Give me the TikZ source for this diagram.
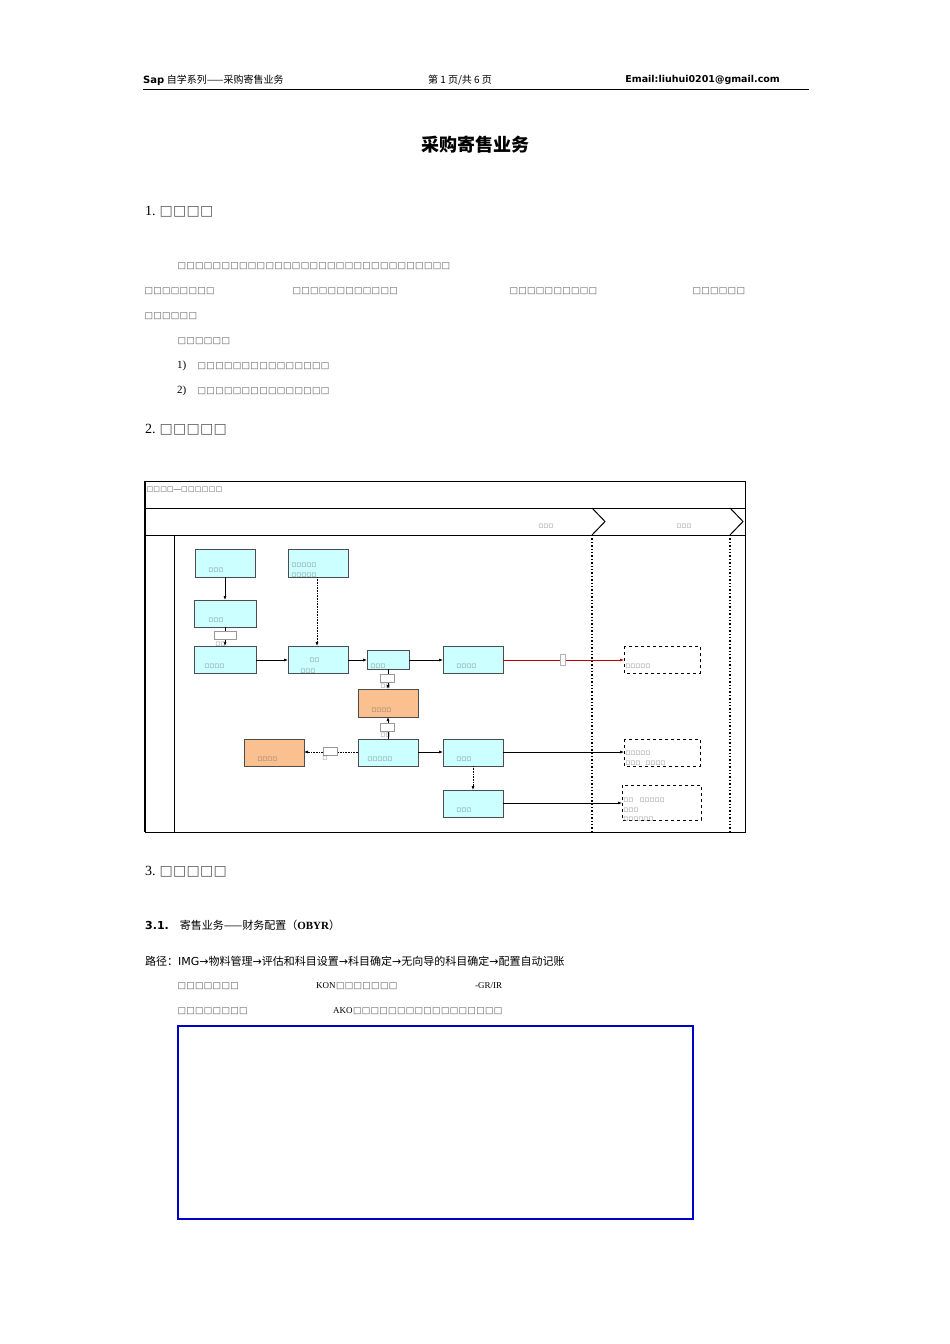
\documentclass[tikz,border=0pt]{standalone}
\usepackage{fontspec}
\setmainfont{Liberation Serif}
\newfontfamily\cjk{Noto Sans CJK SC}
\newfontfamily\dv{DejaVu Sans}
\usetikzlibrary{arrows.meta}
\definecolor{cy}{HTML}{CCFFFF}
\definecolor{org}{HTML}{FAC090}
\newcommand{\tf}[1]{{\dv\color{black!65}\foreach \i in {1,...,#1}{\kern0.3pt□}}}
\tikzset{
 bx/.style={draw=black!70,fill=cy,line width=0.8pt},
 ob/.style={draw=black!70,fill=org,line width=0.8pt},
 db/.style={draw,dashed,line width=0.6pt},
 lab/.style={font=\fontsize{5}{5}\selectfont,inner sep=0pt,anchor=west},
 ar/.style={-{Latex[length=4pt,width=3pt]},line width=0.6pt},
 lb/.style={draw=black!40,fill=white,minimum width=22pt,minimum height=8pt,inner sep=0pt},
}
\begin{document}
\begin{tikzpicture}[x=1pt,y=-1pt]
\useasboundingbox (0,0) rectangle (950,1344);
\fill[white] (0,0) rectangle (950,1344);
% header
\node[anchor=west,inner sep=0] (h1) at (143,80) {\fontsize{10}{10}\selectfont\textbf{\dv Sap} {\cjk 自学系列——采购寄售业务}};
\node[inner sep=0] (h2) at (460,80) {\fontsize{10}{10}\selectfont\cjk 第 1 页/共 6 页};
\node[anchor=east,inner sep=0] (h3) at (780,80) {\fontsize{9.5}{10}\selectfont\dv\bfseries Email:liuhui0201@gmail.com};
\draw[line width=0.8pt] (143,89) -- (809,89);
\node (title) at (475,145) {\fontsize{18}{18}\selectfont\cjk\bfseries 采购寄售业务};
% section 1
\node[anchor=west,inner sep=0] (s1) at (145,212) {\fontsize{14}{14}\selectfont 1.\ \tf{4}};
\node[anchor=west,inner sep=0] (p1) at (177,266) {\fontsize{9}{9}\selectfont\tf{31}};
\node[anchor=west,inner sep=0] (p2) at (144,291) {\fontsize{9}{9}\selectfont\tf{8}};
\node[anchor=west,inner sep=0] (p3) at (292,291) {\fontsize{9}{9}\selectfont\tf{12}};
\node[anchor=west,inner sep=0] (p4) at (509,291) {\fontsize{9}{9}\selectfont\tf{10}};
\node[anchor=west,inner sep=0] (p5) at (692,291) {\fontsize{9}{9}\selectfont\tf{6}};
\node[anchor=west,inner sep=0] (p6) at (144,316) {\fontsize{9}{9}\selectfont\tf{6}};
\node[anchor=west,inner sep=0] (p7) at (177,341) {\fontsize{9}{9}\selectfont\tf{6}};
\node[anchor=west,inner sep=0] (p8) at (177,366) {\fontsize{11}{11}\selectfont 1)\quad\fontsize{9}{9}\selectfont\tf{15}};
\node[anchor=west,inner sep=0] (p9) at (177,391) {\fontsize{11}{11}\selectfont 2)\quad\fontsize{9}{9}\selectfont\tf{15}};
\node[anchor=west,inner sep=0] (s2) at (145,430) {\fontsize{14}{14}\selectfont 2.\ \tf{5}};
% diagram frame
\draw[line width=0.6pt] (145,481) rectangle (745,832);
\draw[line width=1.2pt] (145,481) -- (145,832);
\draw[line width=0.6pt] (145,508) -- (745,508);
\draw[line width=0.6pt] (145,535) -- (745,535);
\draw[line width=0.6pt] (174,535) -- (174,832);
\node[lab,font=\fontsize{7}{7}\selectfont] (dt) at (146,490) {\tf{4}—\tf{6}};
\draw[line width=1pt] (592,508) -- (605,521.5) -- (592,535);
\draw[line width=1pt] (730,508) -- (743,521.5) -- (730,535);
\node[lab] (c1) at (538,526) {\tf{3}};
\node[lab] (c2) at (676,526) {\tf{3}};
\draw[dotted,line width=1.4pt] (592,535) -- (592,832);
\draw[dotted,line width=1.4pt] (730,535) -- (730,832);
% boxes
\draw[bx] (195,549) rectangle (255,577) node[lab] (A) at (208,570) {\tf{3}};
\coordinate (Ab) at (225,577);
\draw[bx] (288,549) rectangle (348,577);
\node[lab] (B1) at (291,565) {\tf{5}}; \node[lab] (B2) at (291,575) {\tf{5}};
\coordinate (Bb) at (317,577);
\draw[bx] (194,600) rectangle (256,627); \node[lab] (C) at (208,620) {\tf{3}};
\coordinate (Ct) at (225,600); \coordinate (Cb) at (225,627);
\draw[bx] (194,646) rectangle (256,673); \node[lab] (D) at (204,666) {\tf{4}};
\coordinate (Dt) at (225,646); \coordinate (Dr) at (256,660);
\draw[bx] (288,646) rectangle (348,673); \node[lab] (E1) at (309,660) {\tf{2}}; \node[lab] (E2) at (300,671) {\tf{3}};
\coordinate (Et) at (317,646); \coordinate (El) at (288,660); \coordinate (Er) at (348,660);
\draw[bx] (367,650) rectangle (409,669); \node[lab] (F) at (370,666) {\tf{3}};
\coordinate (Fl) at (367,660); \coordinate (Fr) at (409,660); \coordinate (Fb) at (388,669);
\draw[bx] (443,646) rectangle (503,673); \node[lab] (G) at (456,666) {\tf{4}};
\coordinate (Gl) at (443,660); \coordinate (Gr) at (503,660);
\draw[ob] (358,689) rectangle (418,717); \node[lab] (H) at (371,710) {\tf{4}};
\coordinate (Ht) at (388,689); \coordinate (Hb) at (388,717);
\draw[ob] (244,739) rectangle (304,766); \node[lab] (I) at (257,759) {\tf{4}};
\coordinate (Ir) at (304,752);
\draw[bx] (358,739) rectangle (418,766); \node[lab] (J) at (367,759) {\tf{5}};
\coordinate (Jt) at (388,739); \coordinate (Jl) at (358,752); \coordinate (Jr) at (418,752);
\draw[bx] (443,739) rectangle (503,766); \node[lab] (K) at (456,759) {\tf{3}};
\coordinate (Kl) at (443,752); \coordinate (Kr) at (503,752); \coordinate (Kb) at (473,766);
\draw[bx] (443,790) rectangle (503,817); \node[lab] (L) at (456,810) {\tf{3}};
\coordinate (Lt) at (473,790); \coordinate (Lr) at (503,803);
\draw[db] (624,646) rectangle (700,673); \node[lab] (M) at (625,666) {\tf{5}};
\coordinate (Ml) at (624,660);
\draw[db] (624,739) rectangle (700,766); \node[lab] (N1) at (625,753) {\tf{5}}; \node[lab] (N2) at (625,763) {\tf{3}\quad\tf{4}};
\coordinate (Nl) at (624,752);
\draw[db] (622,785) rectangle (701,820); \node[lab] (O1) at (623,800) {\tf{2}\quad\ \tf{5}}; \node[lab] (O2) at (623,810) {\tf{3}}; \node[lab] (O3) at (623,819) {\tf{6}};
\coordinate (Ol) at (622,803);
% connectors
\draw[ar] (Ab) -- (Ct);
\draw[ar] (Cb) -- (Dt);
\node[lb] (cl) at (225,635) {}; \node[lab] at (215,644) {\tf{2}};
\draw[ar,densely dotted] (Bb) -- (Et);
\draw[ar] (Dr) -- (El);
\draw[ar] (Er) -- (Fl);
\draw[ar] (Fr) -- (Gl);
\draw[ar] (Fb) -- (Ht);
\node[lb,minimum width=14pt] (fl) at (387,678) {}; \node[lab] at (380,686) {\tf{2}};
\draw[ar] (Jt) -- (Hb);
\node[lb,minimum width=14pt] (jl) at (387,727) {}; \node[lab] at (380,735) {\tf{2}};
\draw[ar,densely dotted] (Jl) -- (Ir);
\node[lb,minimum width=14pt] (il) at (330,751) {}; \node[lab] at (322,758) {\tf{1}};
\draw[ar] (Jr) -- (Kl);
\draw[ar,draw=red!75!black] (Gr) -- (Ml);
\node[lb,minimum width=5pt,minimum height=11pt,draw=black!30] (gl) at (563,660) {};
\draw[ar] (Kr) -- (Nl);
\draw[ar,densely dotted] (Kb) -- (Lt);
\draw[ar] (Lr) -- (Ol);
% section 3
\node[anchor=west,inner sep=0] (s3) at (145,872) {\fontsize{14}{14}\selectfont 3.\ \tf{5}};
\node[anchor=west,inner sep=0] (s31) at (145,925) {\fontsize{11}{11}\selectfont\textbf{\dv 3.1.}\quad{\cjk 寄售业务——财务配置（}\textbf{OBYR}{\cjk ）}};
\node[anchor=west,inner sep=0] (path) at (145,961) {\fontsize{11}{11}\selectfont{\cjk 路径：}{\dv IMG→}{\cjk 物料管理}{\dv →}{\cjk 评估和科目设置}{\dv →}{\cjk 科目确定}{\dv →}{\cjk 无向导的科目确定}{\dv →}{\cjk 配置自动记账}};
\node[anchor=west,inner sep=0] (q1) at (177,986) {\fontsize{9}{9}\selectfont\tf{7}};
\node[anchor=west,inner sep=0] (q2) at (316,986) {\fontsize{9}{9}\selectfont KON\tf{7}};
\node[anchor=west,inner sep=0] (q3) at (475,986) {\fontsize{9}{9}\selectfont -GR/IR};
\node[anchor=west,inner sep=0] (q4) at (177,1011) {\fontsize{9}{9}\selectfont\tf{8}};
\node[anchor=west,inner sep=0] (q5) at (333,1011) {\fontsize{9}{9}\selectfont AKO\tf{17}};
\draw[draw=blue!80!black,line width=1.6pt] (178,1026) rectangle (693,1219);
\end{tikzpicture}
\end{document}
